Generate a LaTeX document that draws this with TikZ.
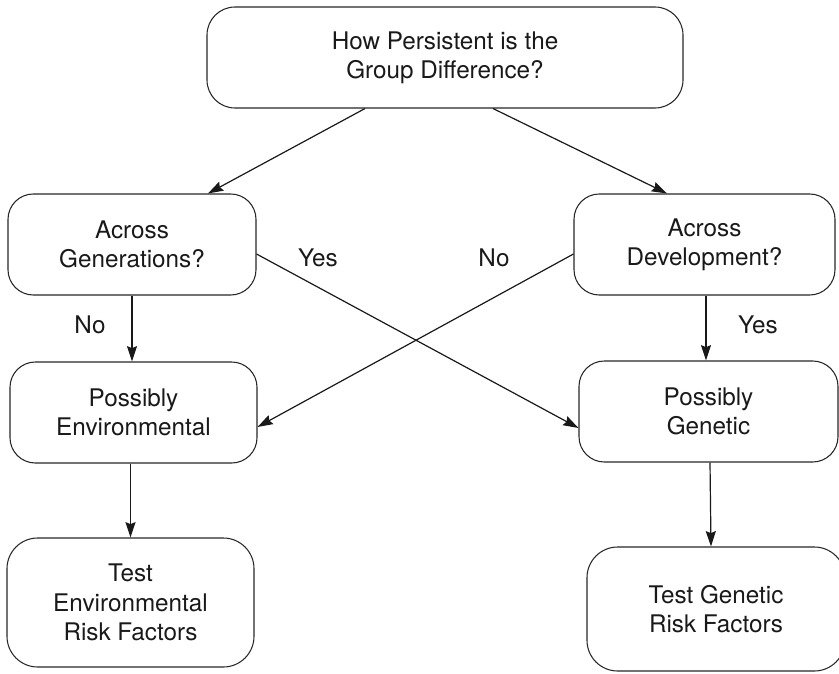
\documentclass[tikz,border=0pt]{standalone}
\usepackage{fontspec}
\setmainfont{TeX Gyre Heros}
\usetikzlibrary{calc,arrows.meta}
\begin{document}
\begin{tikzpicture}[x=0.75pt,y=-0.75pt,
  box/.style={draw=black!85, line width=0.8pt, rounded corners=19pt, inner sep=0pt,
    align=center, text=black!90, font=\fontsize{18.2}{22}\selectfont},
  lbl/.style={text=black!90, font=\fontsize{18.2}{22}\selectfont, inner sep=0pt},
  arr/.style={draw=black!90, line width=0.9pt, -{Stealth[length=11.5pt,width=7.5pt,inset=1.5pt]}}]
\useasboundingbox (0,0) rectangle (839,674);
\clip (0,0) rectangle (839,674);

% decision boxes
\node[box, minimum width=357pt, minimum height=75.75pt, rounded corners=21pt] (top) at (445,57.5)
  {How Persistent is the\\Group Difference?};
\node[box, minimum width=186pt, minimum height=75.75pt] (gen) at (132,244.5)
  {Across\\Generations?};
\node[box, minimum width=195.75pt, minimum height=75.75pt] (dev) at (704.5,244.5)
  {Across\\Development?};

% outcome boxes
\node[box, minimum width=185.25pt, minimum height=75.75pt] (env) at (133.5,412.5)
  {Possibly\\Environmental};
\node[box, minimum width=194.25pt, minimum height=75.75pt] (pgen) at (708.5,411.5)
  {Possibly\\Genetic};
\node[box, minimum width=185.25pt, minimum height=96.75pt, rounded corners=23pt] (tenv) at (130.5,602.5)
  {Test\\Environmental\\Risk Factors};
\node[box, minimum width=193.5pt, minimum height=93pt, rounded corners=23pt] (tgen) at (716,609)
  {Test Genetic\\Risk Factors};

% connectors
\draw[arr] ($(top.south)+(-80,0)$) -- ($(gen.north)+(76,0)$);
\draw[arr] ($(top.south)+(48,0)$) -- ($(dev.north)+(-37.5,0)$);
\draw[arr] (gen.south) -- (gen.south |- env.north);
\draw[arr] ($(dev.south)+(1.5,0)$) -- ($(dev.south |- pgen.north)+(1.5,0)$);
\draw[arr] ($(gen.east)+(0,9.5)$) -- ($(pgen.west)+(0,16.5)$);
\draw[arr] ($(dev.west)+(0,9.5)$) -- ($(env.east)+(0,14.5)$);
\draw[arr] (tenv.north |- env.south) -- (tenv.north);
\draw[arr] ($(pgen.south)+(1.5,0)$) -- ($(tgen.north)+(-5,0)$);

% branch labels
\node[lbl] (yes1) at (318,258) {Yes};
\node[lbl] (no1) at (90,325) {No};
\node[lbl] (no2) at (494,258) {No};
\node[lbl] (yes2) at (758,325) {Yes};
\end{tikzpicture}
\end{document}
